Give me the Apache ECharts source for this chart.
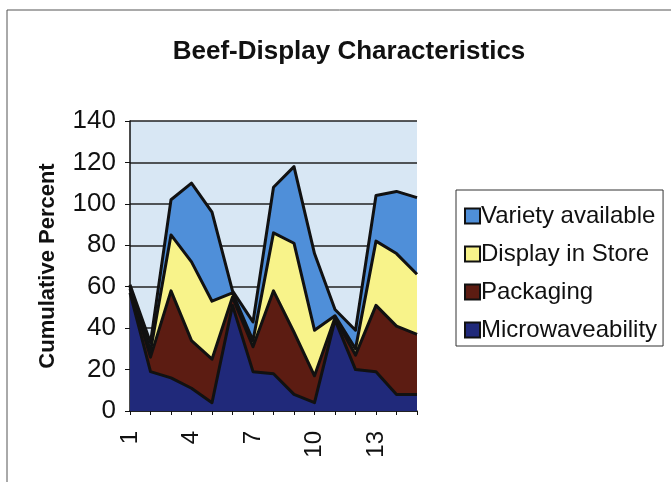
<!DOCTYPE html>
<html>
<head>
<meta charset="utf-8">
<script src="https://cdn.jsdelivr.net/npm/echarts@6/dist/echarts.min.js"></script>
<style>html,body{margin:0;padding:0;background:#fff}#c{width:671px;height:482px}</style>
</head>
<body>
<div id="c"></div>
<script>
var categories = ['1','2','3','4','5','6','7','8','9','10','11','12','13','14','15'];
var microwaveability = [57, 19, 16, 11, 4, 51, 19, 18, 8, 4, 44, 20, 19, 8, 8];
var packaging = [2, 7, 42, 23, 21, 4, 12, 40, 30, 13, 1, 7, 32, 33, 29];
var displayInStore = [1, 3, 27, 38, 28, 2, 3, 28, 43, 22, 1, 3, 31, 35, 29];
var varietyAvailable = [1, 4, 17, 38, 43, 1, 9, 22, 37, 37, 3, 9, 22, 30, 37];
var yTicks = [0, 20, 40, 60, 80, 100, 120, 140];

var font = 'Arial, "Liberation Sans", sans-serif';
var chart = echarts.init(document.getElementById('c'), null, {renderer: 'canvas'});
function s(name, data, color) {
  return {
    name: name, type: 'line', stack: 'total', data: data,
    showSymbol: false, symbol: 'none', color: color,
    itemStyle: {color: color},
    lineStyle: {color: '#111', width: 3, join: 'round'},
    areaStyle: {color: color, opacity: 1},
    emphasis: {disabled: true}
  };
}
chart.setOption({
  animation: false,
  backgroundColor: '#fff',
  graphic: [{type: 'rect', shape: {x: 7, y: 10, width: 700, height: 500}, style: {fill: 'none', stroke: '#555', lineWidth: 1}, silent: true, z: -1}],
  title: {
    text: 'Beef-Display Characteristics', left: 344, top: 34, textAlign: 'center',
    textStyle: {fontFamily: font, fontSize: 26, fontWeight: 'bold', color: '#111'}
  },
  legend: {
    orient: 'vertical', left: 456, top: 190,
    data: ['Variety available', 'Display in Store', 'Packaging', 'Microwaveability'],
    icon: 'rect', itemWidth: 15, itemHeight: 15, itemGap: 14,
    padding: [14, 6, 4, 8],
    borderColor: '#333', borderWidth: 1,
    itemStyle: {borderColor: '#111', borderWidth: 2},
    textStyle: {fontFamily: font, fontSize: 24, color: '#111', padding: [0, 0, 0, -4]}
  },
  grid: {left: 130, top: 121, width: 287, height: 290, show: true, backgroundColor: '#d8e7f4', borderWidth: 0},
  xAxis: {
    type: 'category', data: categories, boundaryGap: false,
    axisLine: {lineStyle: {color: '#111', width: 1.5}},
    axisTick: {show: true, interval: 0, length: 4, lineStyle: {color: '#111'}},
    axisLabel: {interval: 2, rotate: 90, margin: 20, fontFamily: font, fontSize: 24, color: '#111'},
    splitLine: {show: false}
  },
  yAxis: {
    type: 'value', min: yTicks[0], max: yTicks[yTicks.length - 1], interval: 20,
    name: 'Cumulative Percent', nameLocation: 'middle', nameGap: 71,
    nameTextStyle: {fontFamily: font, fontSize: 22, fontWeight: 'bold', color: '#111'},
    axisLine: {show: true, lineStyle: {color: '#111', width: 1.5}},
    axisTick: {show: true, length: 5, lineStyle: {color: '#111'}},
    axisLabel: {margin: 14, fontFamily: font, fontSize: 26, color: '#111'},
    splitLine: {lineStyle: {color: '#222', width: 1.5}}
  },
  series: [
    s('Microwaveability', microwaveability, '#20297a'),
    s('Packaging', packaging, '#5c1c12'),
    s('Display in Store', displayInStore, '#f8f38a'),
    s('Variety available', varietyAvailable, '#4f8fd9')
  ]
});
</script>
</body>
</html>
